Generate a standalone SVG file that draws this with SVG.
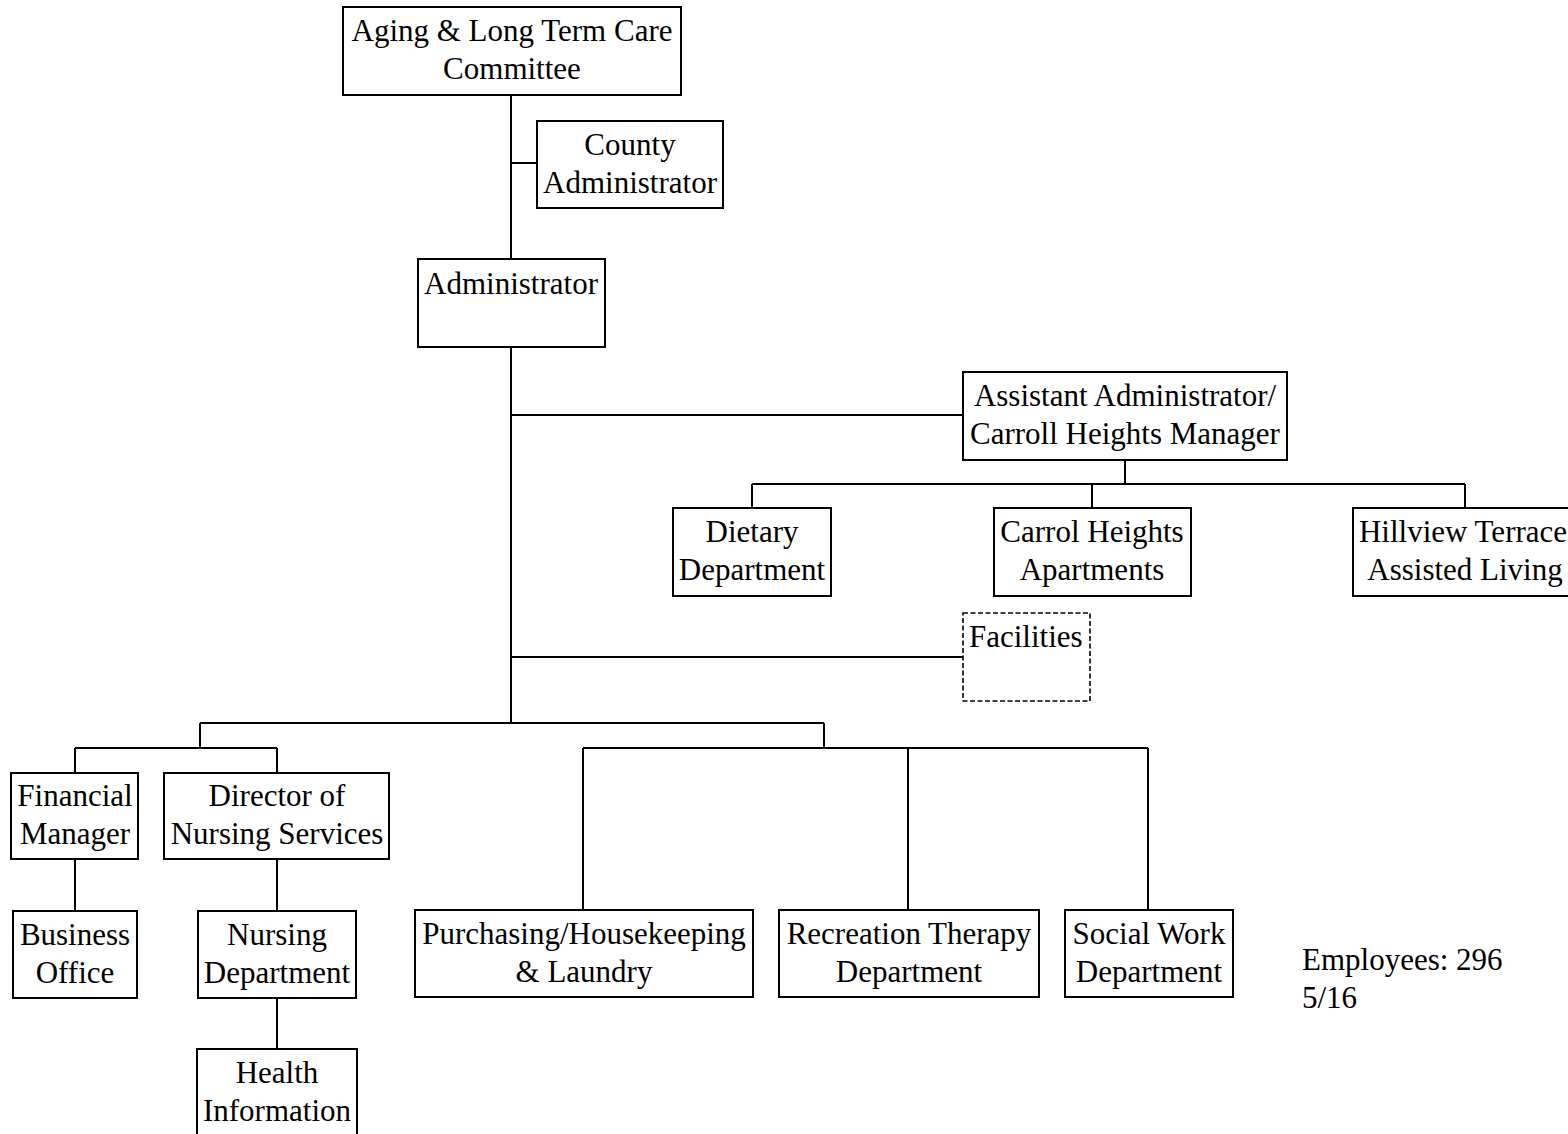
<svg xmlns="http://www.w3.org/2000/svg" width="1568" height="1134" viewBox="0 0 1568 1134">
<style>
.box{fill:#fff;stroke:#000;stroke-width:2}
.dash{fill:#fff;stroke:#000;stroke-width:1.6;stroke-dasharray:5,2.5}
.c{text-anchor:middle}
.ln{fill:none;stroke:#000;stroke-width:2}
</style>
<rect width="1568" height="1134" fill="#fff"/>
<g id="connectors" class="ln">
<path d="M511 95V723"/>
<path d="M511 163H537"/>
<path d="M511 415H963"/>
<path d="M1125 460V484M752 484H1465M752 484V508M1092 484V508M1465 484V508"/>
<path d="M511 657H963"/>
<path d="M200 723H824M200 723V748M75 748H277M75 748V773M277 748V773"/>
<path d="M824 723V748M583 748H1148M583 748V910M908 748V910M1148 748V910"/>
<path d="M75 859V911"/>
<path d="M277 859V911M277 998V1049"/>
</g>
<g font-family="Liberation Serif, Times New Roman, serif" font-size="31" fill="#000">
<g id="aging"><rect class="box" x="343" y="7" width="338" height="88"/><text class="c" x="512" y="41">Aging &amp; Long Term Care</text><text class="c" x="512" y="79">Committee</text></g>
<g id="county"><rect class="box" x="537" y="121" width="186" height="87"/><text class="c" x="630" y="155">County</text><text class="c" x="630" y="193">Administrator</text></g>
<g id="administrator"><rect class="box" x="418" y="259" width="187" height="88"/><text class="c" x="511" y="294">Administrator</text></g>
<g id="assistant"><rect class="box" x="963" y="372" width="324" height="88"/><text class="c" x="1125" y="406">Assistant Administrator/</text><text class="c" x="1125" y="444">Carroll Heights Manager</text></g>
<g id="dietary"><rect class="box" x="673" y="508" width="158" height="88"/><text class="c" x="752" y="542">Dietary</text><text class="c" x="752" y="580">Department</text></g>
<g id="carrol"><rect class="box" x="994" y="508" width="197" height="88"/><text class="c" x="1092" y="542">Carrol Heights</text><text class="c" x="1092" y="580">Apartments</text></g>
<g id="hillview"><rect class="box" x="1353" y="508" width="224" height="88"/><text class="c" x="1463" y="542">Hillview Terrace</text><text class="c" x="1465" y="580">Assisted Living</text></g>
<g id="facilities"><rect class="dash" x="963" y="613" width="127" height="88"/><text x="969" y="647">Facilities</text></g>
<g id="financial"><rect class="box" x="11" y="773" width="127" height="86"/><text class="c" x="75" y="806">Financial</text><text class="c" x="75" y="844">Manager</text></g>
<g id="director"><rect class="box" x="164" y="773" width="225" height="86"/><text class="c" x="277" y="806">Director of</text><text class="c" x="277" y="844">Nursing Services</text></g>
<g id="business"><rect class="box" x="13" y="911" width="124" height="87"/><text class="c" x="75" y="945">Business</text><text class="c" x="75" y="983">Office</text></g>
<g id="nursing"><rect class="box" x="198" y="911" width="158" height="87"/><text class="c" x="277" y="945">Nursing</text><text class="c" x="277" y="983">Department</text></g>
<g id="health"><rect class="box" x="197" y="1049" width="160" height="100"/><text class="c" x="277" y="1083">Health</text><text class="c" x="277" y="1121">Information</text></g>
<g id="purchasing"><rect class="box" x="415" y="910" width="338" height="87"/><text class="c" x="584" y="944">Purchasing/Housekeeping</text><text class="c" x="584" y="982">&amp; Laundry</text></g>
<g id="recreation"><rect class="box" x="779" y="910" width="260" height="87"/><text class="c" x="909" y="944">Recreation Therapy</text><text class="c" x="909" y="982">Department</text></g>
<g id="social"><rect class="box" x="1065" y="910" width="168" height="87"/><text class="c" x="1149" y="944">Social Work</text><text class="c" x="1149" y="982">Department</text></g>
<g id="note"><text x="1302" y="970">Employees: 296</text><text x="1302" y="1008">5/16</text></g>
</g>
</svg>
